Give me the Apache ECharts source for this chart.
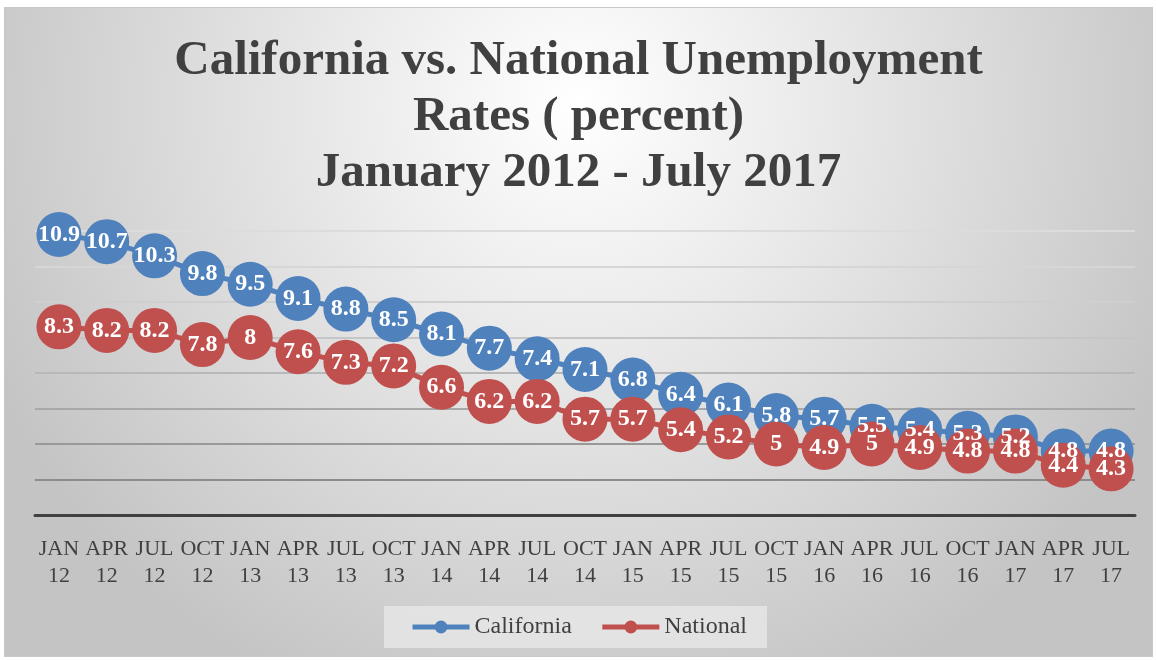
<!DOCTYPE html>
<html>
<head>
<meta charset="utf-8">
<script src="https://cdn.jsdelivr.net/npm/echarts@6/dist/echarts.min.js"></script>
<style>
html,body{margin:0;padding:0;background:#ffffff;width:1156px;height:660px;overflow:hidden;}
#chart{position:absolute;left:4px;top:7px;width:1147px;height:648px;border:1px solid #c8c8c8;}
</style>
</head>
<body>
<div id="chart"></div>
<script>
const categories = ['JAN\n12','APR\n12','JUL\n12','OCT\n12','JAN\n13','APR\n13','JUL\n13','OCT\n13','JAN\n14','APR\n14','JUL\n14','OCT\n14','JAN\n15','APR\n15','JUL\n15','OCT\n15','JAN\n16','APR\n16','JUL\n16','OCT\n16','JAN\n17','APR\n17','JUL\n17'];
const california = [10.9,10.7,10.3,9.8,9.5,9.1,8.8,8.5,8.1,7.7,7.4,7.1,6.8,6.4,6.1,5.8,5.7,5.5,5.4,5.3,5.2,4.8,4.8];
const national = [8.3,8.2,8.2,7.8,8,7.6,7.3,7.2,6.6,6.2,6.2,5.7,5.7,5.4,5.2,5,4.9,5,4.9,4.8,4.8,4.4,4.3];
const titleText = 'California vs. National Unemployment\nRates ( percent)\nJanuary 2012 - July 2017';

const serif = '"Liberation Serif", "DejaVu Serif", serif';
const chart = echarts.init(document.getElementById('chart'));

function mkSeries(name, data, color){
  return {
    name: name, type: 'line', data: data,
    symbol: 'circle', symbolSize: 45,
    lineStyle: {color: color, width: 5},
    itemStyle: {color: color},
    label: {show: true, position: 'inside', color: '#ffffff', fontFamily: serif, fontWeight: 'bold', fontSize: 24},
    emphasis: {disabled: true},
    animation: false
  };
}

chart.setOption({
  backgroundColor: {
    type: 'radial', x: 0.5, y: 0.15, r: 1.0,
    colorStops: [{offset: 0, color: '#ffffff'}, {offset: 0.35, color: '#ebebeb'}, {offset: 0.8, color: '#d0d0d0'}, {offset: 1, color: '#c4c4c4'}]
  },
  title: {
    text: titleText, left: 'center', top: 20,
    textStyle: {fontFamily: serif, fontWeight: 'bold', fontSize: 49, lineHeight: 56, color: '#404040'}
  },
  legend: {
    bottom: 8, left: 'center',
    itemWidth: 57, itemHeight: 16, itemGap: 28,
    padding: [9, 20, 9, 26],
    backgroundColor: 'rgba(228,228,228,0.9)',
    lineStyle: {width: 5},
    textStyle: {fontFamily: serif, fontSize: 24, color: '#404040'},
    data: ['California', 'National']
  },
  grid: {left: 30, right: 17, top: 223, bottom: 141},
  xAxis: {
    type: 'category', data: categories, boundaryGap: true,
    axisLine: {lineStyle: {color: '#404040', width: 3}},
    axisTick: {show: false},
    axisLabel: {fontFamily: serif, fontSize: 22, color: '#404040', lineHeight: 27, margin: 21, interval: 0}
  },
  yAxis: {
    type: 'value', min: 3, max: 11, interval: 1,
    axisLine: {show: false}, axisTick: {show: false}, axisLabel: {show: false},
    splitLine: {lineStyle: {width: 2, color: ['#404040','#8c8c8c','#999999','#a8a8a8','#b8b8b8','#c6c6c6','#cfcfcf','#d6d6d6','#dcdcdc']}}
  },
  series: [mkSeries('California', california, '#4f81bd'), mkSeries('National', national, '#c0504d')]
});
</script>
</body>
</html>
